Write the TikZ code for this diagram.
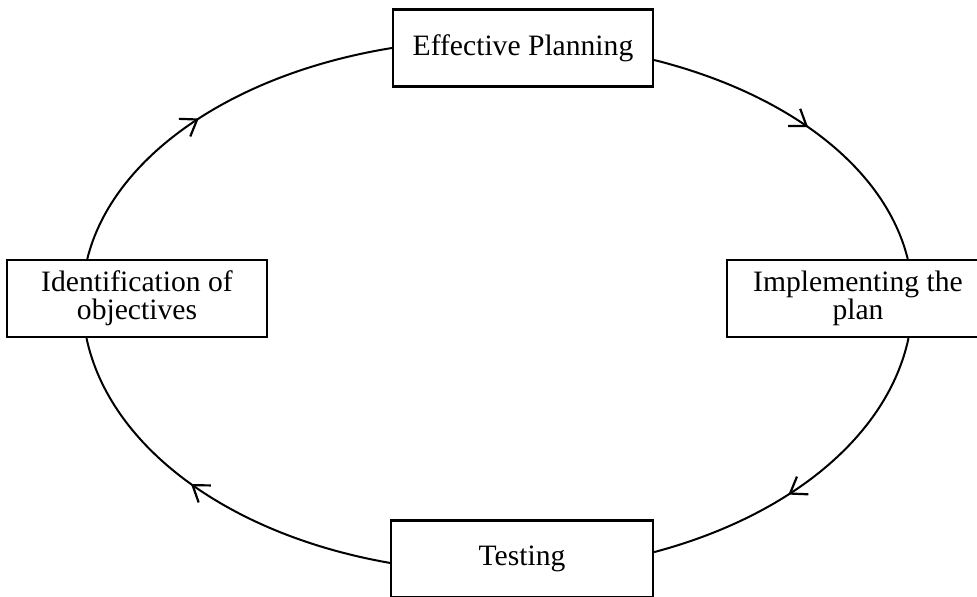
\documentclass[tikz,border=0pt]{standalone}
\usepackage{fontspec}
\setmainfont{Liberation Serif}
\usetikzlibrary{calc,arrows.meta,decorations.markings}
\tikzset{
	stagebox/.style={draw, line width=1.1pt, fill=white, minimum width=130pt, minimum height=38.5pt, inner sep=0pt, align=center, font=\fontsize{14.8}{14}\selectfont},
	cycleline/.style={line width=1pt, postaction={decorate}, decoration={markings, mark=at position #1 with {\arrow{Straight Barb[length=7.5pt, width=10.5pt, line width=1.1pt]}}}},
	cycleline/.default=0.5
}
\begin{document}
\begin{tikzpicture}[x=0.5pt, y=0.5pt]
		%%%%% START %%%%%
		\useasboundingbox (0, 0) rectangle (977, 596);
		
		\node[stagebox] (plan) at (523, 548) {Effective Planning};
		\node[stagebox, minimum width=131pt] (impl) at (858, 297.5) {Implementing the\\plan};
		\node[stagebox, minimum width=131pt] (test) at (522, 37) {Testing};
		\node[stagebox] (ident) at (137, 297.5) {Identification of\\objectives};
		
		% upper half of the cycle
		\draw[cycleline=0.47] ($(ident.north)+(-49.7, 0)$) .. controls +(76.1:105) and +(189.2:162) .. (plan.west);
		\draw[cycleline=0.5] ($(plan.east)+(0, -12)$) .. controls +(-14.1:140) and +(103.9:93) .. ($(impl.north)+(49.7, 0)$);
		
		% lower half of the cycle
		\draw[cycleline=0.58] ($(impl.south)+(50.5, 0)$) .. controls +(-102:99) and +(14.9:142) .. ($(test.east)+(0, 6.9)$);
		\draw[cycleline=0.54] ($(test.west)+(0, -3.9)$) .. controls +(170.1:164) and +(-78:111) .. ($(ident.south)+(-50.5, 0)$);
		
		%%%%% END %%%%%
\end{tikzpicture}
\end{document}
